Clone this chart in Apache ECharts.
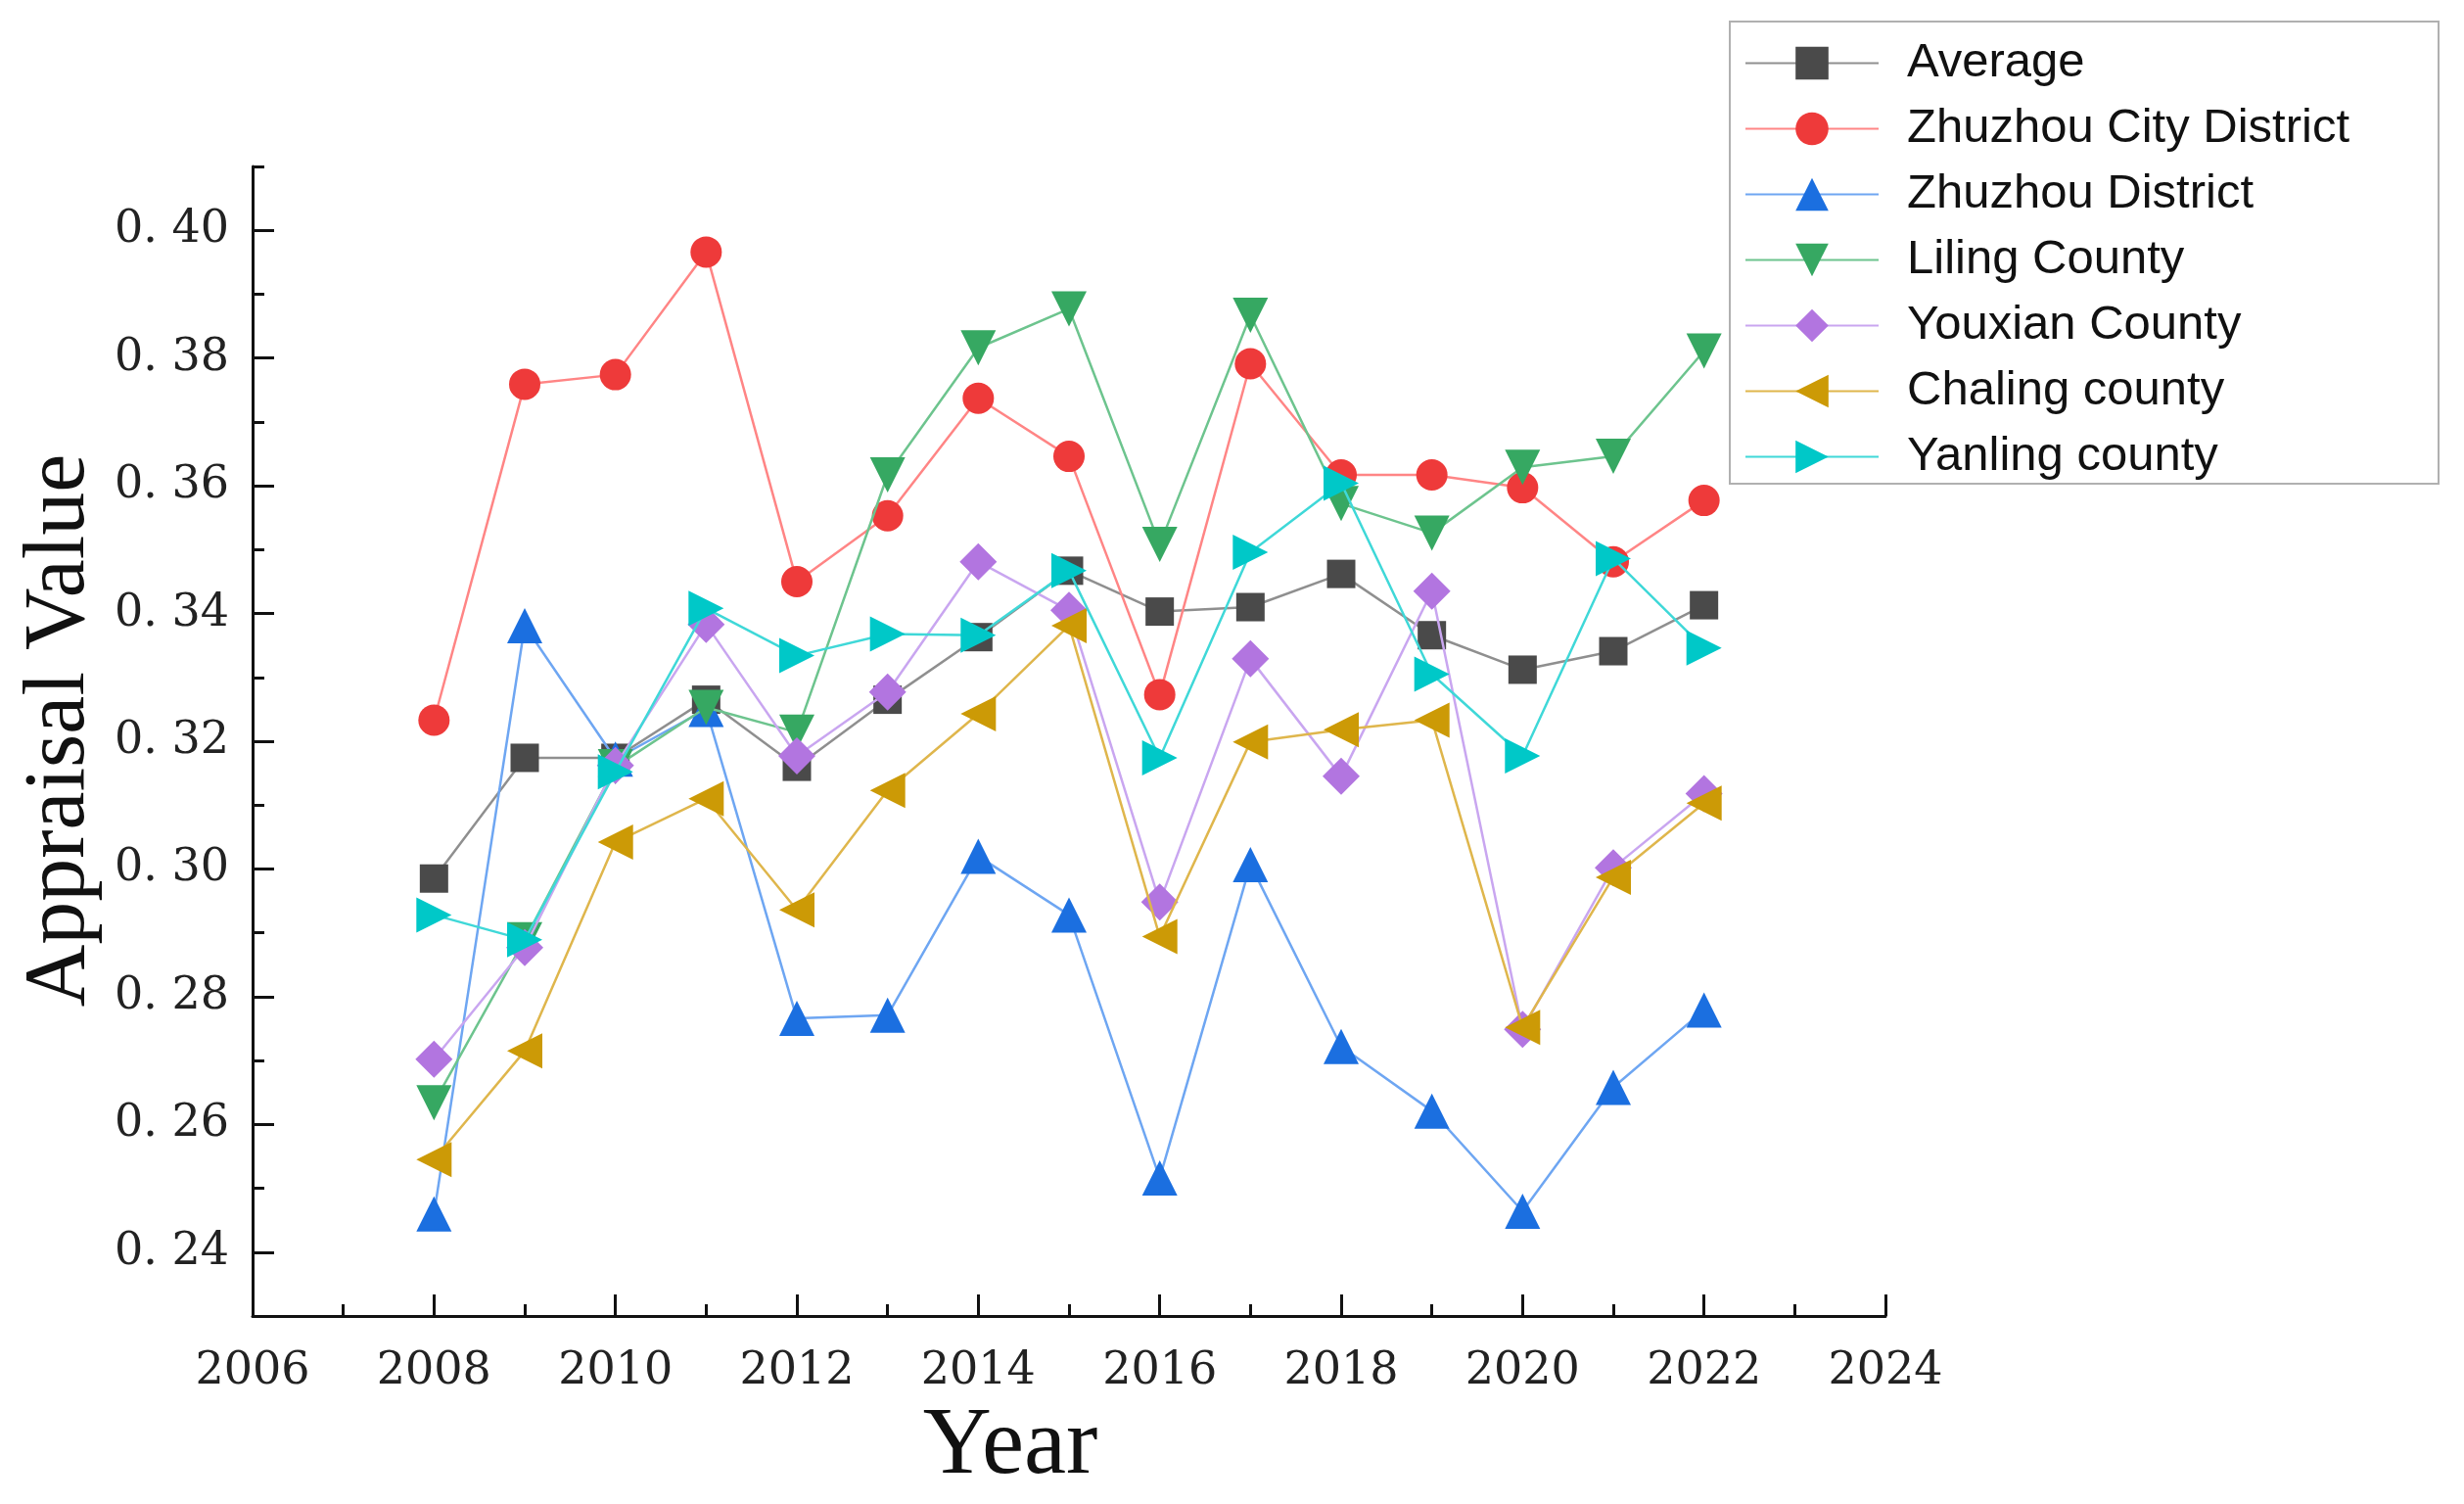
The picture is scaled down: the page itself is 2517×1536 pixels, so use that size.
<!DOCTYPE html>
<html>
<head>
<meta charset="utf-8">
<script src="https://cdn.jsdelivr.net/npm/echarts@6/dist/echarts.min.js"></script>
<style>html,body{margin:0;padding:0;background:#fff;}#c{width:2517px;height:1536px;}</style>
</head>
<body>
<div id="c"></div>
<script>
const years = [2008,2009,2010,2011,2012,2013,2014,2015,2016,2017,2018,2019,2020,2021,2022];
const average      = [0.2985,0.3174,0.3174,0.3265,0.3160,0.3265,0.3363,0.3467,0.3403,0.3410,0.3462,0.3366,0.3312,0.3341,0.3413];
const zhuzhouCity  = [0.3233,0.3759,0.3774,0.3966,0.3450,0.3553,0.3737,0.3646,0.3273,0.3791,0.3617,0.3617,0.3597,0.3481,0.3577];
const zhuzhouDist  = [0.2460,0.3381,0.3172,0.3250,0.2766,0.2771,0.3020,0.2928,0.2516,0.3007,0.2722,0.2621,0.2464,0.2658,0.2779];
const liling       = [0.2634,0.2889,0.3160,0.3253,0.3214,0.3617,0.3816,0.3877,0.3508,0.3867,0.3572,0.3526,0.3629,0.3646,0.3811];
const youxian      = [0.2702,0.2877,0.3162,0.3383,0.3177,0.3277,0.3481,0.3405,0.2948,0.3329,0.3145,0.3435,0.2749,0.3002,0.3118];
const chaling      = [0.2545,0.2715,0.3042,0.3110,0.2936,0.3123,0.3243,0.3381,0.2894,0.3199,0.3218,0.3233,0.2752,0.2987,0.3103];
const yanling      = [0.2928,0.2889,0.3152,0.3408,0.3334,0.3368,0.3366,0.3467,0.3174,0.3496,0.3604,0.3305,0.3177,0.3486,0.3346];

const seriesNames = ['Average','Zhuzhou City District','Zhuzhou District','Liling County','Youxian County','Chaling county','Yanling county'];
const xMajorTicks = [2006,2008,2010,2012,2014,2016,2018,2020,2022,2024];
const xMinorTicks = [2007,2009,2011,2013,2015,2017,2019,2021,2023];
const yMajorTicks = [0.24,0.26,0.28,0.30,0.32,0.34,0.36,0.38,0.40];
const yMinorTicks = [0.25,0.27,0.29,0.31,0.33,0.35,0.37,0.39,0.41];

const triDown  = 'path://M0,0 L10,0 L5,9 Z';
const triLeft  = 'path://M0,5 L9,0 L9,10 Z';
const triRight = 'path://M0,0 L9,5 L0,10 Z';

const styles = [
  {data: average,     symbol: 'rect',     size: 29, marker: '#4a4a4a', line: '#8f8f8f'},
  {data: zhuzhouCity, symbol: 'circle',   size: 32, marker: '#ee3a3a', line: '#ff8585'},
  {data: zhuzhouDist, symbol: 'triangle', size: 36, marker: '#1b6fe0', line: '#6ea6f2'},
  {data: liling,      symbol: triDown,    size: 36, marker: '#36a862', line: '#6dc48e'},
  {data: youxian,     symbol: 'diamond',  size: 38, marker: '#b275e0', line: '#c9a6f0'},
  {data: chaling,     symbol: triLeft,    size: 36, marker: '#cc9a06', line: '#dfb64c'},
  {data: yanling,     symbol: triRight,   size: 36, marker: '#00c8c8', line: '#3fd8d8'}
];

const series = styles.map((s, i) => ({
  name: seriesNames[i],
  type: 'line',
  xAxisIndex: 0,
  yAxisIndex: 0,
  data: years.map((y, k) => [y, s.data[k]]),
  symbol: s.symbol,
  symbolSize: s.size,
  itemStyle: {color: s.marker},
  lineStyle: {color: s.line, width: 2.5},
  emphasis: {disabled: true},
  z: 2 + i
}));

const chart = echarts.init(document.getElementById('c'), null, {renderer: 'canvas'});
const axisFont = {fontFamily: 'DejaVu Serif', fontSize: 46, color: '#222'};

chart.setOption({
  animation: false,
  backgroundColor: '#fff',
  grid: {left: 258, right: 591, top: 170, bottom: 192, containLabel: false},
  legend: {
    orient: 'vertical',
    left: 1767, top: 22,
    padding: [18, 91, 3, 15],
    itemWidth: 136, itemHeight: 42, itemGap: 18,
    borderColor: '#b0b0b0', borderWidth: 2,
    textStyle: {fontFamily: 'Liberation Sans', fontSize: 49, color: '#111', lineHeight: 48, padding: [0,0,0,24]},
    data: seriesNames
  },
  xAxis: [
    {
      type: 'value', min: 2006, max: 2024, position: 'bottom',
      axisLine: {show: true, lineStyle: {color: '#111', width: 3}},
      axisTick: {show: true, inside: true, length: 22, lineStyle: {color: '#111', width: 3}, customValues: xMajorTicks},
      axisLabel: Object.assign({show: true, margin: 34, customValues: xMajorTicks, formatter: v => String(v)}, axisFont),
      splitLine: {show: false},
      name: 'Year', nameLocation: 'middle', nameGap: 86,
      nameTextStyle: {fontFamily: 'Liberation Serif', fontSize: 97, color: '#111', padding: [0, 120, 0, 0]}
    },
    {
      type: 'value', min: 2006, max: 2024, position: 'bottom',
      axisLine: {show: false},
      axisTick: {show: true, inside: true, length: 12, lineStyle: {color: '#111', width: 3}, customValues: xMinorTicks},
      axisLabel: {show: false},
      splitLine: {show: false}
    }
  ],
  yAxis: [
    {
      type: 'value', min: 0.23, max: 0.41, position: 'left',
      axisLine: {show: true, lineStyle: {color: '#111', width: 3}},
      axisTick: {show: true, inside: true, length: 22, lineStyle: {color: '#111', width: 3}, customValues: yMajorTicks},
      axisLabel: Object.assign({show: true, margin: 24, customValues: yMajorTicks, formatter: v => '0. ' + String(Math.round(v * 100))}, axisFont),
      splitLine: {show: false},
      name: 'Appraisal Value', nameLocation: 'middle', nameGap: 122,
      nameTextStyle: {fontFamily: 'Liberation Serif', fontSize: 88, color: '#111', padding: [0, 0, 0, 22]}
    },
    {
      type: 'value', min: 0.23, max: 0.41, position: 'left',
      axisLine: {show: false},
      axisTick: {show: true, inside: true, length: 12, lineStyle: {color: '#111', width: 3}, customValues: yMinorTicks},
      axisLabel: {show: false},
      splitLine: {show: false}
    }
  ],
  series: series
});
</script>
</body>
</html>
